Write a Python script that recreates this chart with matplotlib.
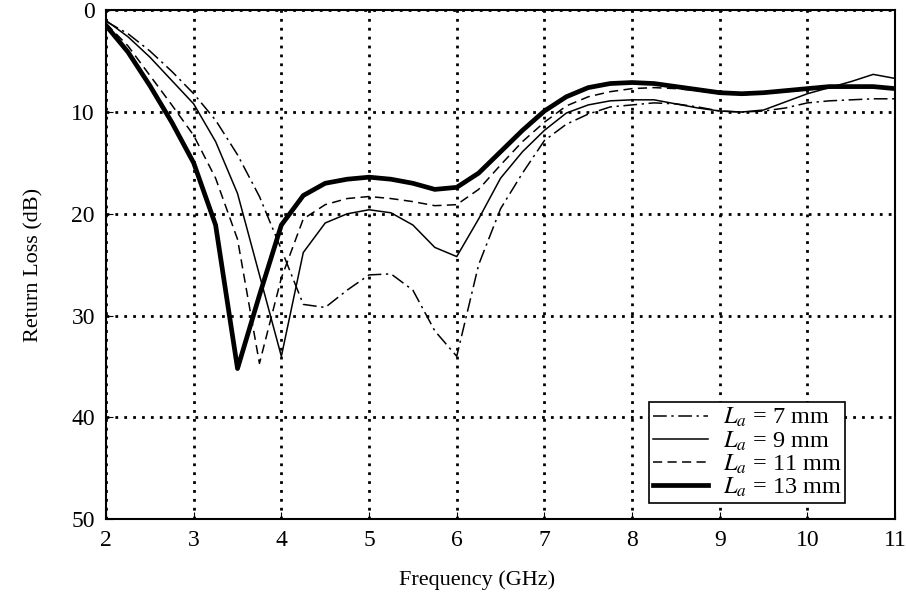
import numpy as np
import matplotlib
matplotlib.use("Agg")
import matplotlib.pyplot as plt

plt.rcParams['font.family'] = ['Liberation Serif', 'DejaVu Serif']
plt.rcParams['mathtext.fontset'] = 'stix'

# frequency points (GHz)
freq = [2.0, 2.25, 2.5, 2.75, 3.0, 3.25, 3.5, 3.75, 4.0, 4.25, 4.5, 4.75,
        5.0, 5.25, 5.5, 5.75, 6.0, 6.25, 6.5, 6.75, 7.0, 7.25, 7.5, 7.75,
        8.0, 8.25, 8.5, 8.75, 9.0, 9.25, 9.5, 9.75, 10.0, 10.25, 10.5, 10.75, 11.0]

# return loss (dB) for each La
rl_7mm = [1.1, 2.3, 4.0, 6.0, 8.2, 10.8, 14.2, 18.3, 23.5, 28.9, 29.2, 27.5,
          26.0, 25.9, 27.5, 31.5, 34.0, 25.0, 19.5, 16.0, 12.8, 11.2, 10.2, 9.5,
          9.3, 9.1, 9.2, 9.5, 9.9, 10.0, 9.9, 9.6, 9.1, 8.9, 8.8, 8.7, 8.7]
rl_9mm = [1.0, 2.6, 4.6, 6.9, 9.2, 12.9, 18.0, 26.0, 34.0, 23.8, 20.9, 20.0,
          19.6, 19.9, 21.1, 23.3, 24.2, 20.5, 16.5, 13.9, 11.8, 10.1, 9.3, 8.9,
          8.8, 8.8, 9.2, 9.6, 9.9, 10.0, 9.8, 9.0, 8.2, 7.6, 7.0, 6.3, 6.7]
rl_11mm = [1.3, 3.5, 6.4, 9.3, 12.3, 16.5, 22.5, 34.7, 26.3, 20.5, 19.1, 18.5,
           18.3, 18.5, 18.8, 19.2, 19.1, 17.6, 15.2, 12.9, 11.0, 9.4, 8.5, 8.0,
           7.7, 7.6, 7.7, 7.9, 8.2, 8.3, 8.2, 8.0, 7.8, 7.6, 7.5, 7.5, 7.6]
rl_13mm = [1.5, 4.1, 7.4, 11.0, 15.0, 21.1, 35.2, 28.0, 21.1, 18.2, 17.0, 16.6,
           16.4, 16.6, 17.0, 17.6, 17.4, 16.0, 13.9, 11.8, 9.9, 8.5, 7.6, 7.2,
           7.1, 7.2, 7.5, 7.8, 8.1, 8.2, 8.1, 7.9, 7.7, 7.5, 7.5, 7.5, 7.7]

labels = ["$L_a$ = 7 mm", "$L_a$ = 9 mm", "$L_a$ = 11 mm", "$L_a$ = 13 mm"]

fig = plt.figure(figsize=(9.06, 6.03), dpi=100)
ax = fig.add_axes([0.117, 0.139, 0.871, 0.844])

ax.plot(freq, rl_7mm, color="black", lw=1.1, dashes=(9, 3, 1.5, 3), label=labels[0])
ax.plot(freq, rl_9mm, color="black", lw=1.1, label=labels[1])
ax.plot(freq, rl_11mm, color="black", lw=1.1, dashes=(6, 3.5), label=labels[2])
ax.plot(freq, rl_13mm, color="black", lw=3.4, label=labels[3])

ax.set_xlim(2, 11)
ax.set_ylim(50, 0)
ax.set_xticks(np.arange(2, 12, 1))
ax.set_yticks(np.arange(0, 60, 10))
ax.grid(True, color="black", linestyle=(0, (1, 2.2)), linewidth=2)
ax.tick_params(direction="in", length=5, labelsize=17, pad=8)
for s in ax.spines.values():
    s.set_linewidth(1.5)

ax.set_xlabel("Frequency (GHz)", fontsize=16)
ax.xaxis.set_label_coords(0.47, -0.1)
ax.set_ylabel("Return Loss (dB)", fontsize=16, labelpad=20)

leg = ax.legend(loc="lower left", bbox_to_anchor=(0.688, 0.032), borderaxespad=0,
                fontsize=17.5, fancybox=False, framealpha=1, edgecolor="black",
                handlelength=2.3, labelspacing=0.0, borderpad=0.15, handletextpad=0.6)
leg.get_frame().set_linewidth(1.2)

fig.savefig("out.png", dpi=100)
